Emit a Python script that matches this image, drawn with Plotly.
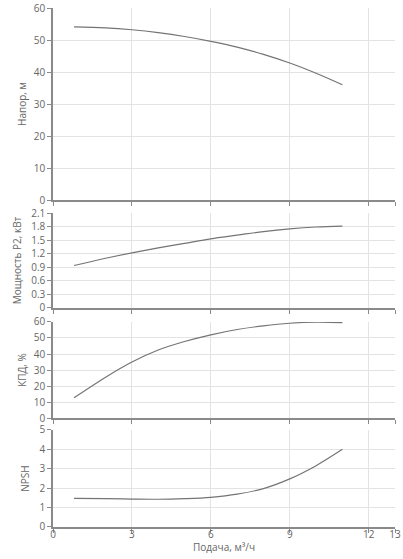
import plotly.graph_objects as go

# Подача, м³/ч
flow = [0.8, 2, 3, 4, 5, 6, 7, 8, 9, 10, 11]

# Напор, м
head = [54.1, 53.8, 53.2, 52.3, 51.1, 49.6, 47.8, 45.5, 42.8, 39.6, 36.0]
# Мощность P2, кВт
power = [0.94, 1.10, 1.22, 1.33, 1.43, 1.53, 1.61, 1.69, 1.75, 1.79, 1.81]
# КПД, %
efficiency = [12.6, 25.5, 35.0, 42.5, 47.8, 52.0, 55.3, 57.6, 59.2, 59.9, 59.6]
# NPSH
npsh = [1.47, 1.46, 1.44, 1.43, 1.46, 1.53, 1.69, 1.98, 2.48, 3.16, 4.0]

x_ticks = [0, 3, 6, 9, 12, 13]
x_title = "Подача, м³/ч"

titles = ["Напор, м", "Мощность P2, кВт", "КПД, %", "NPSH"]
series = [head, power, efficiency, npsh]
y_ranges = [[0, 60], [0, 2.1], [0, 60], [0, 5]]
y_ticks = [
    [0, 10, 20, 30, 40, 50, 60],
    [0, 0.3, 0.6, 0.9, 1.2, 1.5, 1.8, 2.1],
    [0, 10, 20, 30, 40, 50, 60],
    [0, 1, 2, 3, 4, 5],
]

# panel placement (paper coords) and y title offsets
domains = [[0.630, 1.0], [0.422, 0.605], [0.210, 0.395], [0.0, 0.187]]
title_standoffs = [5, 8, 5, 8]

line_color = "#747474"
grid_color = "#e3e3e6"
axis_color = "#8a8a8a"
text_color = "#666666"

fig = go.Figure()
layout = {}

for i in range(4):
    suffix = "" if i == 0 else str(i + 1)
    last = i == 3
    fig.add_trace(go.Scatter(
        x=flow,
        y=series[i],
        mode="lines",
        line=dict(color=line_color, width=1.2, shape="spline"),
        xaxis="x" + suffix,
        yaxis="y" + suffix,
        showlegend=False,
        hoverinfo="skip",
    ))
    layout["xaxis" + suffix] = dict(
        domain=[0, 1],
        anchor="y" + suffix,
        range=[0, 13],
        tickvals=x_ticks,
        showticklabels=last,
        showgrid=True,
        gridcolor=grid_color,
        gridwidth=1,
        zeroline=False,
        showline=True,
        linecolor=axis_color,
        linewidth=1.5,
        ticks="outside",
        ticklen=4,
        tickcolor=axis_color,
        tickfont=dict(size=10, color=text_color),
        ticklabeloverflow="allow",
        ticklabelstandoff=-7 if last else 0,
        automargin=False,
    )
    if i != 0:
        layout["xaxis" + suffix]["matches"] = "x"
    layout["yaxis" + suffix] = dict(
        domain=domains[i],
        anchor="x" + suffix,
        range=y_ranges[i],
        tickvals=y_ticks[i],
        showgrid=True,
        gridcolor=grid_color,
        gridwidth=1,
        zeroline=False,
        showline=True,
        linecolor=axis_color,
        linewidth=1.5,
        ticks="outside",
        ticklen=4,
        tickcolor=axis_color,
        tickfont=dict(size=10, color=text_color),
        automargin=False,
        title=dict(text=titles[i], font=dict(size=10, color=text_color), standoff=title_standoffs[i]),
    )

# x title sits tight under the bottom tick labels
fig.add_annotation(
    text=x_title,
    xref="paper", yref="paper",
    x=0.5, y=0,
    xanchor="center", yanchor="top",
    yshift=-11,
    showarrow=False,
    font=dict(size=10, color=text_color),
)

fig.update_layout(
    width=403,
    height=559,
    margin=dict(l=53, r=8, t=8, b=32),
    plot_bgcolor="white",
    paper_bgcolor="white",
    font=dict(family="Open Sans", size=10, color=text_color),
    **layout,
)

# drop the browser's default body margin so the figure fills the window
fig.write_html(
    "out.html",
    config={"displayModeBar": False},
    post_script="document.body.style.margin='0';",
)
